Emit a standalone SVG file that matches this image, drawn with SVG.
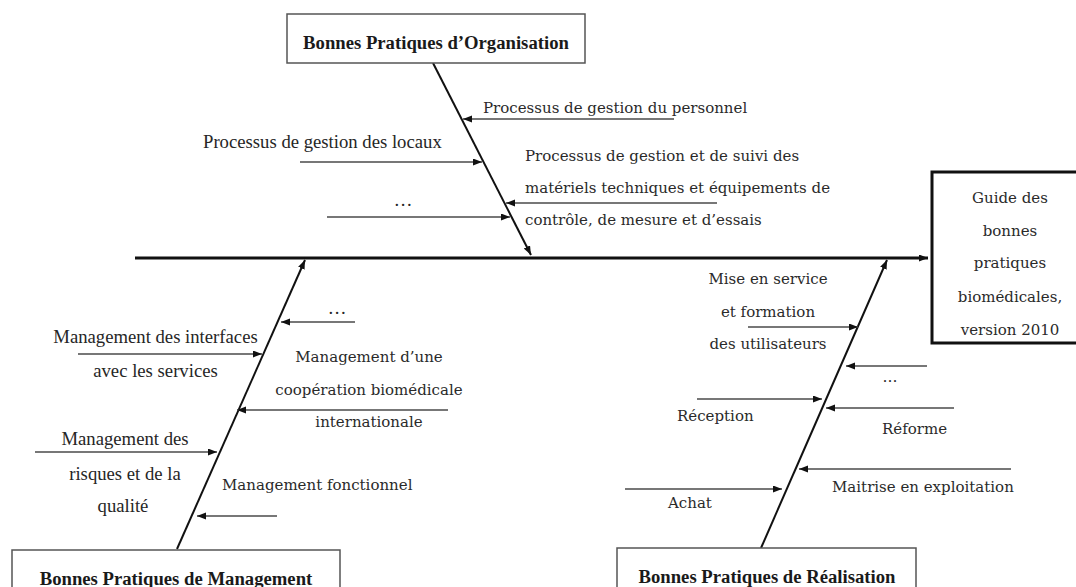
<svg xmlns="http://www.w3.org/2000/svg" width="1076" height="587" viewBox="0 0 1076 587">
  <style>
    .t { font-family: "Liberation Serif", "Times New Roman", serif; font-size: 18.7px; fill: #262626; }
    .c { font-family: "DejaVu Serif", "Liberation Serif", serif; font-size: 15px; fill: #2a2a2a; }
    .b { font-family: "Liberation Serif", "Times New Roman", serif; font-size: 18.7px; font-weight: bold; fill: #1a1a1a; }
    .m { text-anchor: middle; }
    .box { fill: #ffffff; stroke: #555555; stroke-width: 1.5; }
    .bone { stroke: #111111; stroke-width: 2; fill: none; marker-end: url(#ah); }
    .br { stroke: #4a4a4a; stroke-width: 1.6; fill: none; marker-end: url(#ah); }
  </style>
  <defs>
    <marker id="ah" markerUnits="userSpaceOnUse" markerWidth="10" markerHeight="8" refX="9" refY="3.5" orient="auto">
      <path d="M0,0 L9,3.5 L0,7 z" fill="#111111"/>
    </marker>
  </defs>
  <rect width="1076" height="587" fill="#ffffff"/>

  <g id="connectors">
    <line x1="135" y1="258" x2="928" y2="258" stroke="#111111" stroke-width="3" marker-end="url(#ah)"/>
    <line class="bone" x1="433" y1="63" x2="531" y2="255"/>
    <line class="bone" x1="177" y1="549" x2="305" y2="260"/>
    <line class="bone" x1="761" y1="548" x2="887" y2="260"/>
    <line class="br" x1="674" y1="119" x2="463" y2="119"/>
    <line class="br" x1="300" y1="162" x2="482" y2="162"/>
    <line class="br" x1="327" y1="217" x2="510" y2="217"/>
    <line class="br" x1="717" y1="203" x2="506" y2="203"/>
    <line class="br" x1="355" y1="322" x2="281" y2="322"/>
    <line class="br" x1="78" y1="354" x2="262" y2="354"/>
    <line class="br" x1="448" y1="410" x2="237" y2="410"/>
    <line class="br" x1="35" y1="452" x2="217" y2="452"/>
    <line class="br" x1="277" y1="516" x2="197" y2="516"/>
    <line class="br" x1="748" y1="327" x2="858" y2="327"/>
    <line class="br" x1="927" y1="366" x2="846" y2="366"/>
    <line class="br" x1="697" y1="399" x2="822" y2="399"/>
    <line class="br" x1="954" y1="408" x2="826" y2="408"/>
    <line class="br" x1="1011" y1="469" x2="799" y2="469"/>
    <line class="br" x1="625" y1="489" x2="782" y2="489"/>
  </g>

  <g id="organisation">
    <rect class="box" x="287" y="14" width="298" height="49"/>
    <text class="b m" x="436" y="49">Bonnes Pratiques d’Organisation</text>
  </g>
  <g id="management">
    <rect class="box" x="12" y="550" width="328" height="50"/>
    <text class="b m" x="176" y="585">Bonnes Pratiques de Management</text>
  </g>
  <g id="realisation">
    <rect class="box" x="617" y="548" width="299" height="52"/>
    <text class="b m" x="767" y="583">Bonnes Pratiques de Réalisation</text>
  </g>
  <g id="guide">
    <rect x="932" y="172" width="160" height="171" fill="#ffffff" stroke="#111111" stroke-width="3"/>
    <text class="c m" x="1010" y="203">Guide des</text>
    <text class="c m" x="1010" y="236">bonnes</text>
    <text class="c m" x="1010" y="268">pratiques</text>
    <text class="c m" x="1010" y="302">biomédicales,</text>
    <text class="c m" x="1010" y="335">version 2010</text>
  </g>

  <g id="labels-organisation">
    <text class="c" x="483" y="113">Processus de gestion du personnel</text>
    <text class="t" x="203" y="148">Processus de gestion des locaux</text>
    <text class="t m" x="403" y="206">…</text>
    <text class="c" x="525" y="161">Processus de gestion et de suivi des</text>
    <text class="c" x="525" y="193">matériels techniques et équipements  de</text>
    <text class="c" x="525" y="225">contrôle, de mesure et d’essais</text>
  </g>
  <g id="labels-management">
    <text class="t m" x="337" y="314">…</text>
    <text class="t m" x="155.5" y="343">Management des interfaces</text>
    <text class="t m" x="155.5" y="377">avec les services</text>
    <text class="c m" x="369" y="362">Management d’une</text>
    <text class="c m" x="369" y="395">coopération biomédicale</text>
    <text class="c m" x="369" y="427">internationale</text>
    <text class="t m" x="125" y="445">Management des</text>
    <text class="t m" x="125" y="480">risques et de la</text>
    <text class="t m" x="123" y="512">qualité</text>
    <text class="c" x="222" y="490">Management fonctionnel</text>
  </g>
  <g id="labels-realisation">
    <text class="c m" x="768" y="284">Mise en service</text>
    <text class="c m" x="768" y="317">et formation</text>
    <text class="c m" x="768" y="349">des utilisateurs</text>
    <text class="c m" x="890" y="382">…</text>
    <text class="c" x="677" y="421">Réception</text>
    <text class="c" x="882" y="434">Réforme</text>
    <text class="c" x="832" y="492">Maitrise en exploitation</text>
    <text class="c" x="668" y="508">Achat</text>
  </g>
</svg>
